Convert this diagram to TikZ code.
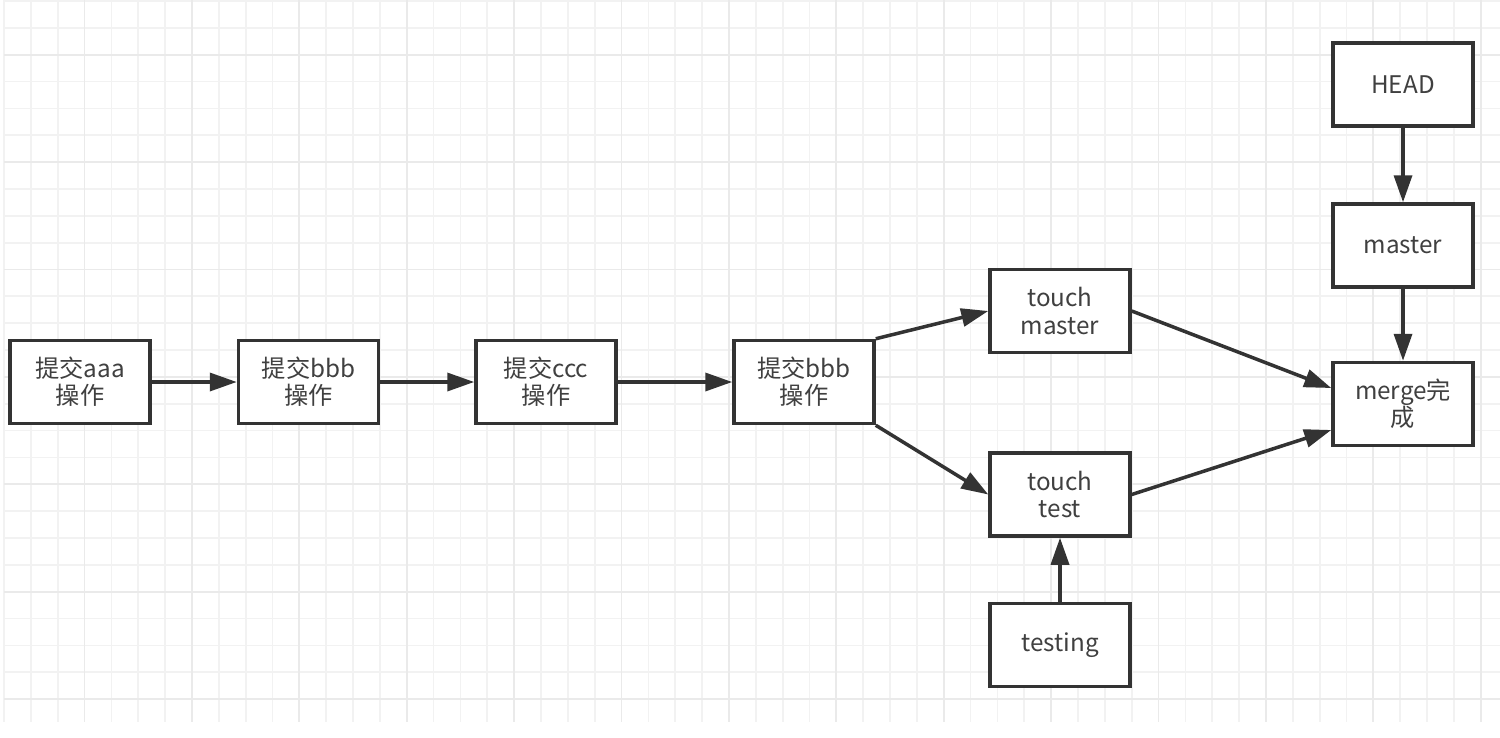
\documentclass[tikz,border=0pt]{standalone}
\usepackage{fontspec}
\setmainfont{Noto Sans CJK SC}
\usetikzlibrary{arrows.meta}
\definecolor{gridline}{HTML}{F2F2F2}
\definecolor{gridmajor}{HTML}{EAEAEA}
\definecolor{linegray}{HTML}{333333}
\definecolor{textgray}{HTML}{404040}
\tikzset{
  commit/.style={draw=linegray, line width=2pt, fill=white, minimum width=2.8cm, minimum height=1.66cm,
    align=center, text=textgray, font=\fontsize{13.8}{15.4}\selectfont},
  link/.style={draw=linegray, line width=2pt, -{Triangle[length=0.54cm,width=0.36cm]}}
}
\begin{document}
\begin{tikzpicture}[x=0.02cm, y=-0.02cm]
  \useasboundingbox (0,0) rectangle (1500,737);
  % grille
  \foreach \k [evaluate=\k as \gx using 4+26.85*\k] in {0,...,55}
    \draw[gridline, line width=1pt] (\gx,0) -- (\gx,722);
  \foreach \k [evaluate=\k as \gy using 1+26.85*\k] in {0,...,26}
    \draw[gridline, line width=1pt] (4,\gy) -- (1500,\gy);
  \foreach \k [evaluate=\k as \gx using 4+26.85*\k] in {3,7,...,55}
    \draw[gridmajor, line width=1pt] (\gx,0) -- (\gx,722);
  \foreach \k [evaluate=\k as \gy using 1+26.85*\k] in {2,6,...,26}
    \draw[gridmajor, line width=1pt] (4,\gy) -- (1500,\gy);

  \node[commit] (aaa) at (80,382) {提交aaa\\操作};
  \node[commit] (bbb) at (308.5,382) {提交bbb\\操作};
  \node[commit] (ccc) at (546,382) {提交ccc\\操作};
  \node[commit] (bbbtwo) at (804,382) {提交bbb\\操作};
  \node[commit] (tmaster) at (1060,311) {touch\\master};
  \node[commit] (ttest) at (1060,494.5) {touch\\test};
  \node[commit] (testing) at (1060,645) {testing};
  \node[commit] (head) at (1403,84.5) {HEAD};
  \node[commit] (master) at (1403,245.5) {master};
  \node[commit] (merge) at (1403,404) {merge完\\成};

  \draw[link] (aaa) -- (bbb);
  \draw[link] (bbb) -- (ccc);
  \draw[link] (ccc) -- (bbbtwo);
  \draw[link] (bbbtwo.north east) -- (tmaster.west);
  \draw[link] (bbbtwo.south east) -- (ttest.west);
  \draw[link] (tmaster.east) -- ([yshift=0.32cm]merge.west);
  \draw[link] (ttest.east) -- ([yshift=-0.52cm]merge.west);
  \draw[link] (testing) -- (ttest);
  \draw[link] (head) -- (master);
  \draw[link] (master) -- (merge);
\end{tikzpicture}
\end{document}
